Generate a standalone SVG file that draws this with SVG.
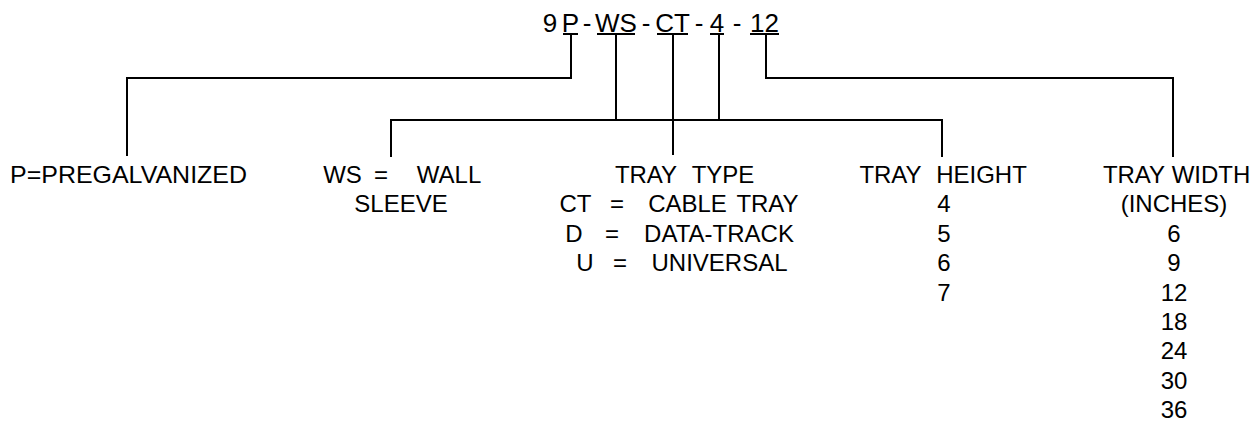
<svg xmlns="http://www.w3.org/2000/svg" width="1258" height="424" viewBox="0 0 1258 424">
<style>
text{font-family:"Liberation Sans",Arial,sans-serif;font-size:24px;fill:#000}
.c{text-anchor:middle}
.t{font-size:26px}
.ln{stroke:#000;stroke-width:2;fill:none}
</style>
<rect width="1258" height="424" fill="#fff"/>
<g id="code">
<text class="t c" y="32"><tspan x="550">9</tspan><tspan x="570.5">P</tspan><tspan x="587">-</tspan><tspan x="616">WS</tspan><tspan x="646">-</tspan><tspan x="672.5">CT</tspan><tspan x="699">-</tspan><tspan x="717">4</tspan><tspan x="737">-</tspan><tspan x="764.5">12</tspan></text>
<path class="ln" d="M563,34H578M597,34H635M657,34H688M710,34H724M750,34H779"/>
</g>
<g id="connectors">
<path class="ln" d="M571,34V78H127V156"/>
<path class="ln" d="M616,34V120"/>
<path class="ln" d="M391,157V120H942V157"/>
<path class="ln" d="M673,34V155"/>
<path class="ln" d="M719,34V120"/>
<path class="ln" d="M766,34V78H1173V157"/>
</g>
<g id="node-p">
<text x="10" y="183" textLength="237" lengthAdjust="spacingAndGlyphs">P=PREGALVANIZED</text>
</g>
<g id="node-ws">
<text class="c" y="183"><tspan x="342.5">WS</tspan><tspan x="381">=</tspan><tspan x="449">WALL</tspan></text>
<text class="c" x="401" y="212.4">SLEEVE</text>
</g>
<g id="node-ct">
<text class="c" y="183"><tspan x="646">TRAY</tspan><tspan x="723">TYPE</tspan></text>
<text class="c" y="212.4"><tspan x="575.5">CT</tspan><tspan x="617">=</tspan><tspan x="687.5">CABLE</tspan><tspan x="767.5">TRAY</tspan></text>
<text class="c" y="241.8"><tspan x="574">D</tspan><tspan x="612">=</tspan><tspan x="719">DATA-TRACK</tspan></text>
<text class="c" y="271.1"><tspan x="585">U</tspan><tspan x="620">=</tspan><tspan x="719.5">UNIVERSAL</tspan></text>
</g>
<g id="node-height">
<text class="c" y="183"><tspan x="890.5">TRAY</tspan><tspan x="981.5">HEIGHT</tspan></text>
<text class="c" x="944" y="212.4">4</text>
<text class="c" x="944" y="241.8">5</text>
<text class="c" x="944" y="271.1">6</text>
<text class="c" x="944" y="300.5">7</text>
</g>
<g id="node-width">
<text class="c" y="183"><tspan x="1134">TRAY</tspan><tspan x="1211">WIDTH</tspan></text>
<text class="c" x="1174" y="212.4">(INCHES)</text>
<text class="c" x="1174" y="241.8">6</text>
<text class="c" x="1174" y="271.1">9</text>
<text class="c" x="1174" y="300.5">12</text>
<text class="c" x="1174" y="329.9">18</text>
<text class="c" x="1174" y="359.3">24</text>
<text class="c" x="1174" y="388.6">30</text>
<text class="c" x="1174" y="418">36</text>
</g>
</svg>
